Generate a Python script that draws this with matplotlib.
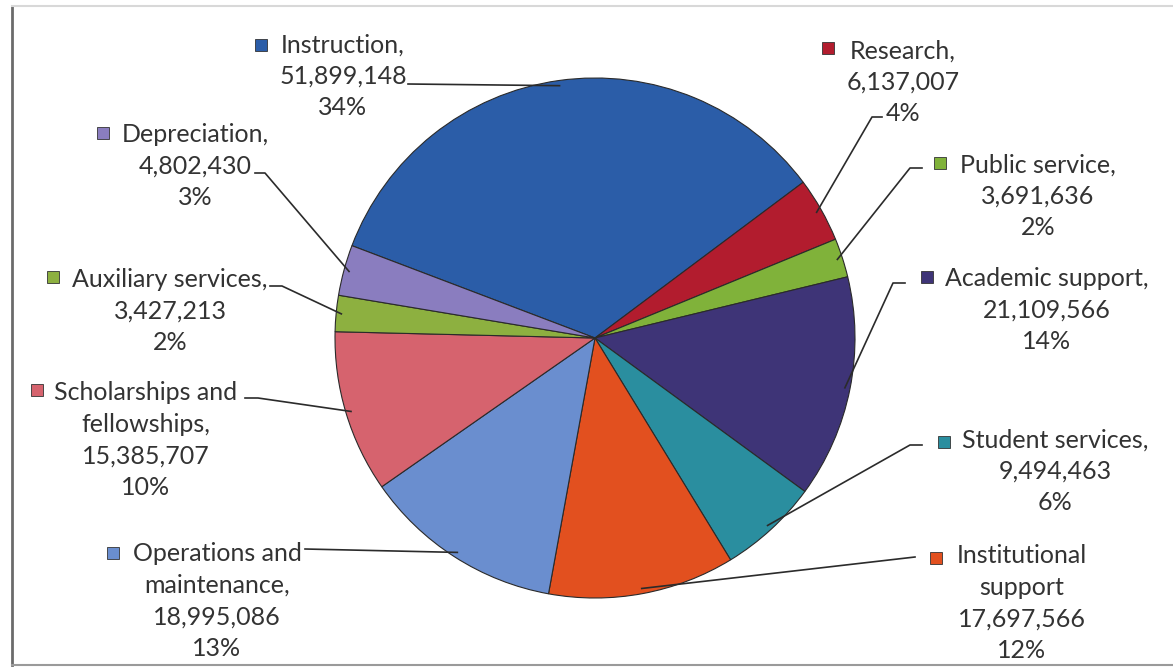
import numpy as np
import matplotlib.pyplot as plt

# data
categories = ["Instruction,", "Research,", "Public service,", "Academic support,",
              "Student services,", "Institutional\nsupport", "Operations and\nmaintenance,",
              "Scholarships and\nfellowships,", "Auxiliary services,", "Depreciation,"]
values = [51899148, 6137007, 3691636, 21109566, 9494463,
          17697566, 18995086, 15385707, 3427213, 4802430]
percents = [34, 4, 2, 14, 6, 12, 13, 10, 2, 3]
colors = ["#2B5DA8", "#B21C2E", "#80B23A", "#3E3477", "#2A8E9F",
          "#E2501F", "#6A8ECF", "#D6636E", "#8DB040", "#8A7DBF"]

W, H = 1173, 669

# layout (pixel coords, y down)
text_pos = [(343, 76), (903, 82), (1038, 196), (1047, 310), (1055, 471),
            (1022, 603), (217, 601), (146, 440), (170, 311), (195, 166)]
marker_pos = [(261, 45), (828, 48), (940, 163), (927, 277), (944, 442),
              (936, 558), (113, 553), (37, 390), (53, 277), (103, 133)]
leader_start = [[(408, 84)], [(882, 117), (872, 117)], [(922, 168), (910, 168)],
                [(905, 283), (893, 283)], [(922, 445), (910, 445)], [(915, 557)],
                [(305, 549)], [(245, 398), (258, 398)], [(270, 286), (282, 286)],
                [(255, 173), (265, 173)]]

cx, cy, r = 595, 338, 260

fig = plt.figure(figsize=(W / 100, H / 100), dpi=100)
ax = fig.add_axes([0, 0, 1, 1])

wedges, _ = ax.pie(values, colors=colors, startangle=159.2, counterclock=False,
                   center=(cx, H - cy), radius=r,
                   wedgeprops=dict(edgecolor="#2a2a2a", linewidth=0.8))

for i, w in enumerate(wedges):
    mid = np.deg2rad((w.theta1 + w.theta2) / 2)
    px = cx + 0.98 * r * np.cos(mid)
    py = (H - cy) + 0.98 * r * np.sin(mid)
    pts = [(x, H - y) for x, y in leader_start[i]] + [(px, py)]
    ax.plot([p[0] for p in pts], [p[1] for p in pts], color="#2b2b2b", lw=1.2, zorder=3)

    label = f"{categories[i]}\n{values[i]:,}\n{percents[i]}%"
    tx, ty = text_pos[i]
    ax.text(tx, H - ty, label, ha="center", va="center", fontsize=18,
            family="Lato", color="#333333", linespacing=1.44)
    mx, my = marker_pos[i]
    ax.plot(mx, H - my, marker="s", ms=9, color=colors[i], mec="#333333", mew=0.6)

# frame lines
ax.plot([12, 12], [H - 6, H - 665], color="#6b6b6b", lw=2)
ax.plot([12, W], [H - 6, H - 6], color="#d8d8d8", lw=1.5)
ax.plot([12, W], [H - 665, H - 665], color="#9a9a9a", lw=1.5)

ax.set_xlim(0, W)
ax.set_ylim(0, H)
ax.set_aspect("equal")
ax.axis("off")

fig.savefig("out.png", dpi=100)
